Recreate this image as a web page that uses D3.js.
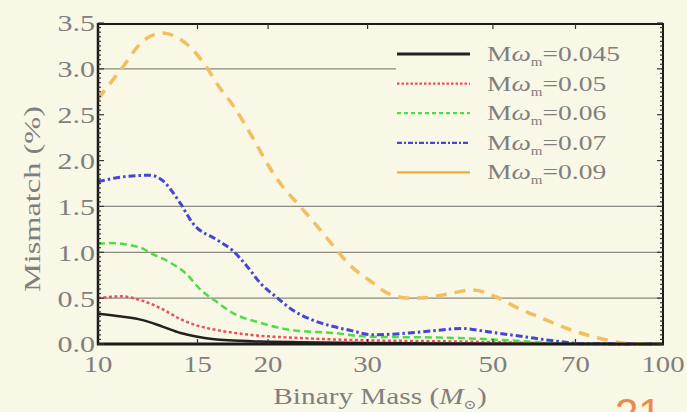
<!DOCTYPE html>
<html>
<head>
<meta charset="utf-8">
<script src="https://cdn.jsdelivr.net/npm/d3@7"></script>
<style>
  html, body { margin: 0; padding: 0; background: #f9f7e5; }
  svg { display: block; }
</style>
</head>
<body>
<svg width="687" height="412"></svg>
<script>
// Binary mass (solar masses) and mismatch (%)
const mass045 = [10, 11, 12, 13, 14, 15, 17, 20, 22.8, 30, 50, 100];
const mis045 = [0.33, 0.3, 0.26, 0.19, 0.12, 0.08, 0.04, 0.025, 0.02, 0.01, 0.004, 0];

const mass05 = [10, 11, 12, 13, 14, 15, 16.3, 18.6, 22.8, 30, 40, 50, 70, 100];
const mis05 = [0.5, 0.52, 0.47, 0.38, 0.27, 0.2, 0.15, 0.1, 0.065, 0.04, 0.03, 0.02, 0.003, 0];

const mass06 = [10, 10.5, 11.9, 12.4, 13.4, 14.3, 15.2, 16.3, 17.3, 19.4, 22.1, 26.1, 30, 40, 50, 60, 70, 100];
const mis06 = [1.09, 1.1, 1.05, 0.99, 0.89, 0.77, 0.59, 0.45, 0.34, 0.23, 0.15, 0.12, 0.08, 0.07, 0.05, 0.02, 0.003, 0];

const mass07 = [10, 11, 12.4, 12.9, 14.0, 14.7, 16.3, 17.3, 18.4, 19.4, 20.7, 22.1, 24.0, 26.1, 27.9, 30.7, 35.5, 40, 44, 49.4, 56.6, 65, 72, 100];
const mis07 = [1.77, 1.82, 1.84, 1.8, 1.53, 1.32, 1.13, 1.02, 0.84, 0.66, 0.51, 0.37, 0.26, 0.19, 0.15, 0.1, 0.12, 0.15, 0.17, 0.13, 0.08, 0.03, 0.003, 0];

const mass09 = [10, 11, 12, 13, 14, 14.6, 15.6, 16.4, 17.3, 18.1, 19.1, 20.1, 21.2, 22.8, 24.0, 26.5, 27.6, 30.3, 32.9, 35.7, 38.7, 42, 46, 50.8, 55, 60.6, 69, 80, 86, 100];
const mis09 = [2.67, 3.0, 3.3, 3.39, 3.32, 3.23, 3.01, 2.8, 2.61, 2.42, 2.17, 1.93, 1.72, 1.5, 1.34, 1.02, 0.89, 0.69, 0.54, 0.5, 0.51, 0.55, 0.59, 0.51, 0.4, 0.29, 0.15, 0.04, 0.005, 0];

const seriesLabels = ['0.045', '0.05', '0.06', '0.07', '0.09'];
const xTickValues = [10, 15, 20, 30, 50, 70, 100];
const yTickValues = [0, 0.5, 1, 1.5, 2, 2.5, 3, 3.5];
const gridValues = [0.5, 1, 1.5, 3];

// Define style values
const bgColor = '#f9f7e5';
const textColor = '#7f7f7f';
const serif = '"Liberation Serif", "DejaVu Serif", serif';
const stretch = 1.25; // the slide text is drawn wider than normal
const styles = [
  { color: '#222222', dash: null, width: 2.5, legendDash: null },
  { color: '#ec4f5c', dash: '3,2.5', width: 2.5, legendDash: '2.5,2' },
  { color: '#4fdc4a', dash: '7,4', width: 2.5, legendDash: '4,3' },
  { color: '#4646d6', dash: '7,3,2.5,3', width: 3, legendDash: '5,2,2,2' },
  { color: '#f3bf5e', dash: '11,8', width: 3.5, legendDash: null, legendColor: '#eaaf3c' },
];

const series = [
  { mass: mass045, mis: mis045 },
  { mass: mass05, mis: mis05 },
  { mass: mass06, mis: mis06 },
  { mass: mass07, mis: mis07 },
  { mass: mass09, mis: mis09 },
];

const svg = d3.select('svg');
svg.append('rect').attr('width', 687).attr('height', 412).attr('fill', bgColor);

const x = d3.scaleLog().domain([10, 100]).range([98, 663]);
const y = d3.scaleLinear().domain([0, 3.5]).range([344, 23]);

// grid lines
svg.append('g')
  .selectAll('line')
  .data(gridValues)
  .enter()
  .append('line')
  .attr('x1', x(10))
  .attr('x2', x(100))
  .attr('y1', (d) => y(d))
  .attr('y2', (d) => y(d))
  .attr('stroke', '#8a8a82')
  .attr('stroke-width', 1.2);

// curves
const line = d3.line()
  .x((d) => x(d[0]))
  .y((d) => y(d[1]))
  .curve(d3.curveMonotoneX);

const curves = svg.append('g');
series.forEach((s, i) => {
  const pts = s.mass.map((m, j) => [m, s.mis[j]]);
  curves.append('path')
    .datum(pts)
    .attr('d', line)
    .attr('fill', 'none')
    .attr('stroke', styles[i].color)
    .attr('stroke-width', styles[i].width)
    .attr('stroke-dasharray', styles[i].dash)
    .attr('stroke-linecap', 'butt');
});

// legend box (hides the grid behind it)
svg.append('rect')
  .attr('x', 396)
  .attr('y', 36)
  .attr('width', 265)
  .attr('height', 160)
  .attr('fill', bgColor);

const legend = svg.append('g');
const rowY = (i) => 54 + i * 29.6;
seriesLabels.forEach((lab, i) => {
  legend.append('line')
    .attr('x1', 397)
    .attr('x2', 470)
    .attr('y1', rowY(i))
    .attr('y2', rowY(i))
    .attr('stroke', styles[i].legendColor || styles[i].color)
    .attr('stroke-width', i === 0 ? 3 : 2.2)
    .attr('stroke-dasharray', styles[i].legendDash);

  const t = legend.append('text')
    .attr('transform', `translate(487,${rowY(i) + 7}) scale(1.25,1)`)
    .attr('font-family', serif)
    .attr('font-size', 22)
    .attr('fill', textColor);
  t.append('tspan').text('M');
  t.append('tspan').attr('font-style', 'italic').text('ω');
  t.append('tspan').attr('font-size', 12).attr('dy', 5).text('m');
  t.append('tspan').attr('dy', -5).text('=' + lab);
});

// frame
const frame = svg.append('g').attr('stroke', '#1a1a1a').attr('fill', 'none');
frame.append('line').attr('x1', 97).attr('x2', 664).attr('y1', 24).attr('y2', 24).attr('stroke-width', 2);
frame.append('line').attr('x1', 98).attr('x2', 98).attr('y1', 23).attr('y2', 345).attr('stroke-width', 2.5);
frame.append('line').attr('x1', 663).attr('x2', 663).attr('y1', 23).attr('y2', 345).attr('stroke-width', 2);
frame.append('line').attr('x1', 97).attr('x2', 664).attr('y1', 344).attr('y2', 344).attr('stroke-width', 3);

// ticks: left and right (major + minor), top and bottom majors
const minorY = d3.range(0, 3.5001, 0.05);
const ticks = svg.append('g').attr('stroke', '#333').attr('stroke-width', 1.2);
minorY.forEach((v) => {
  const major = Math.abs(v * 2 - Math.round(v * 2)) < 1e-6;
  const len = major ? 6 : 3;
  ticks.append('line').attr('x1', 98).attr('x2', 98 + len).attr('y1', y(v)).attr('y2', y(v));
  ticks.append('line').attr('x1', 663).attr('x2', 663 - len).attr('y1', y(v)).attr('y2', y(v));
});
xTickValues.slice(1, -1).forEach((v) => {
  ticks.append('line').attr('x1', x(v)).attr('x2', x(v)).attr('y1', 24).attr('y2', 29);
  ticks.append('line').attr('x1', x(v)).attr('x2', x(v)).attr('y1', 344).attr('y2', 339);
});

// tick labels
svg.append('g')
  .selectAll('text')
  .data(yTickValues)
  .enter()
  .append('text')
  .attr('transform', (d) => `translate(95,${y(d)}) scale(${stretch},1)`)
  .attr('dy', '0.35em')
  .attr('text-anchor', 'end')
  .attr('font-family', serif)
  .attr('font-size', 24)
  .attr('fill', textColor)
  .text(d3.format('.1f'));

svg.append('g')
  .selectAll('text')
  .data(xTickValues)
  .enter()
  .append('text')
  .attr('transform', (d) => `translate(${x(d)},372) scale(${stretch},1)`)
  .attr('text-anchor', 'middle')
  .attr('font-family', serif)
  .attr('font-size', 23)
  .attr('fill', textColor)
  .text((d) => d);

// axis titles
svg.append('text')
  .attr('transform', 'translate(40,199) rotate(-90) scale(1.35,1)')
  .attr('text-anchor', 'middle')
  .attr('font-family', serif)
  .attr('font-size', 24)
  .attr('fill', textColor)
  .text('Mismatch (%)');

const xt = svg.append('text')
  .attr('transform', 'translate(380,404) scale(1.22,1)')
  .attr('text-anchor', 'middle')
  .attr('font-family', serif)
  .attr('font-size', 24)
  .attr('fill', textColor);
xt.append('tspan').text('Binary Mass (');
xt.append('tspan').attr('font-style', 'italic').text('M');
xt.append('tspan').attr('font-size', 13).attr('dy', 5).text('⊙');
xt.append('tspan').attr('dy', -5).text(')');

// slide number peeking in at the bottom right
svg.append('text')
  .attr('x', 615)
  .attr('y', 428)
  .attr('font-family', '"Liberation Sans", sans-serif')
  .attr('font-size', 42)
  .attr('fill', '#ec8a4e')
  .text('21');
</script>
</body>
</html>
